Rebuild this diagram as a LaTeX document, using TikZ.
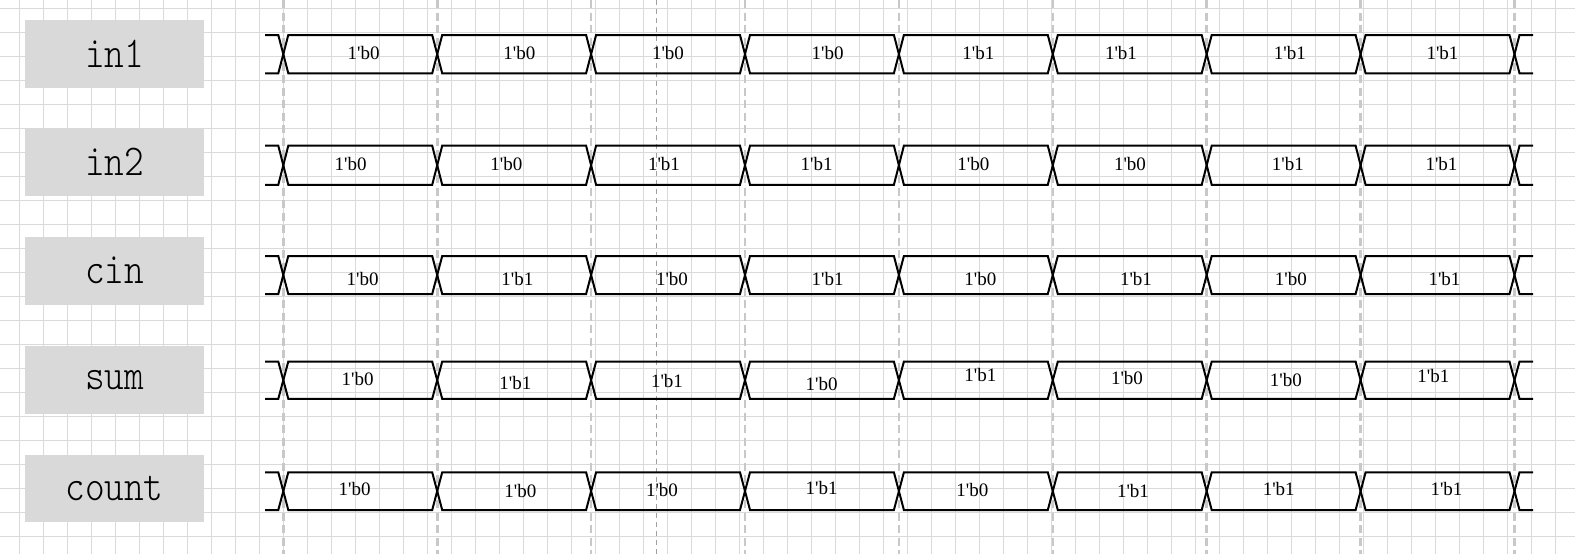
\documentclass[tikz,border=0pt]{standalone}
\usepackage{fontspec}
\setmainfont{Liberation Serif}
\newfontfamily\valfont{Liberation Serif}[Ligatures=ResetAll]
\definecolor{gridc}{RGB}{218,218,218}
\definecolor{boxc}{RGB}{217,217,217}
\definecolor{clkc}{RGB}{200,200,200}
\definecolor{thinc}{RGB}{160,160,160}
\newcommand\drawwave[2]{%
  \draw[wave] (265,#1)
    \foreach \k in {0,2,4,6} {
      -- ({283.3+153.9*\k-5},#1) -- ({283.3+153.9*\k+5},#2)
      -- ({283.3+153.9*(\k+1)-5},#2) -- ({283.3+153.9*(\k+1)+5},#1)
    }
    -- ({283.3+153.9*8-5},#1) -- ({283.3+153.9*8+5},#2) -- (1533,#2);
  \draw[wave] (265,#2)
    \foreach \k in {0,2,4,6} {
      -- ({283.3+153.9*\k-5},#2) -- ({283.3+153.9*\k+5},#1)
      -- ({283.3+153.9*(\k+1)-5},#1) -- ({283.3+153.9*(\k+1)+5},#2)
    }
    -- ({283.3+153.9*8-5},#2) -- ({283.3+153.9*8+5},#1) -- (1533,#1);
}
\begin{document}
\begin{tikzpicture}[x=1pt,y=-1pt,
  gridline/.style={draw=gridc,line width=1pt},
  clockline/.style={draw=clkc,line width=2.6pt,dash pattern=on 8pt off 4.5pt},
  thindash/.style={draw=thinc,line width=0.9pt,dash pattern=on 5pt off 4pt},
  wave/.style={draw=black,line width=2pt,line join=miter},
  sigbox/.style={fill=boxc,minimum width=179pt,minimum height=67.5pt,inner sep=0pt,
    font=\ttfamily\fontseries{l}\fontsize{44}{44}\selectfont},
  val/.style={inner sep=0pt,font=\valfont\fontsize{19}{19}\selectfont}]
\useasboundingbox (0,0) rectangle (1575,554);
\fill[white] (0,0) rectangle (1575,554);
% grid
\foreach \i in {0,...,65} \draw[gridline] ({19.3+24*\i},0) -- ({19.3+24*\i},554);
\foreach \j in {0,...,22} \draw[gridline] (0,{8.3+24*\j}) -- (1575,{8.3+24*\j});
% clock lines
\foreach \k in {0,...,8} \draw[clockline] ({283.3+153.9*\k},0) -- ({283.3+153.9*\k},554);
\draw[thindash] (656.7,0) -- (656.7,554);
% signal name boxes
\node[sigbox] (n1) at (114.5,53.8) {\scalebox{0.85}[1]{in1}};
\node[sigbox] (n2) at (114.5,162) {\scalebox{0.85}[1]{in2}};
\node[sigbox] (n3) at (114.5,270.8) {\scalebox{0.85}[1]{cin}};
\node[sigbox] (n4) at (114.5,379.8) {\scalebox{0.85}[1]{sum}};
\node[sigbox] (n5) at (114.5,488.7) {\scalebox{0.85}[1]{count}};
% waveforms
\drawwave{35}{73.3}
\drawwave{145.7}{184.8}
\drawwave{256}{294}
\drawwave{361.6}{398.8}
\drawwave{472.3}{510}
% values
\foreach \x/\v [count=\c] in {363.6/0,519.3/0,668/0,827.7/0,978.4/1,1121/1,1289.8/1,1442.5/1}
  \node[val] (a\c) at (\x,53.2) {1'b\v};
\foreach \x/\v [count=\c] in {350.6/0,506.3/0,664/1,816.7/1,973.4/0,1130/0,1287.8/1,1441.5/1}
  \node[val] (b\c) at (\x,163.7) {1'b\v};
\foreach \x/\v [count=\c] in {362.6/0,517.3/1,672/0,827.7/1,980.4/0,1136/1,1290.8/0,1444.5/1}
  \node[val] (c\c) at (\x,279.3) {1'b\v};
\foreach \x/\y/\v [count=\c] in {357.6/378.7/0,515.3/382.7/1,667/380.7/1,821.7/383.7/0,980.4/374.7/1,1127/377.7/0,1285.8/379.7/0,1433.4/375.7/1}
  \node[val] (d\c) at (\x,\y) {1'b\v};
\foreach \x/\y/\v [count=\c] in {354.6/489.2/0,520.3/491.2/0,662/490.2/0,821.7/488.2/1,972.4/490.2/0,1133/491.2/1,1278.7/489.2/1,1446.5/489.2/1}
  \node[val] (e\c) at (\x,\y) {1'b\v};
\end{tikzpicture}
\end{document}
